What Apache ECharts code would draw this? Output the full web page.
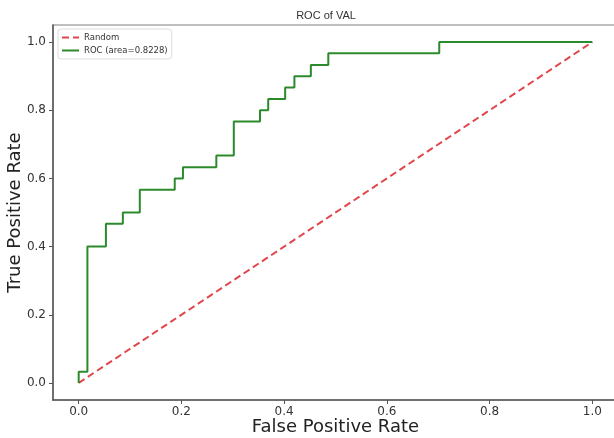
<!DOCTYPE html>
<html lang="en">
<head>
    <meta charset="UTF-8">
    <title>ROC of VAL</title>
    <script src="https://cdn.jsdelivr.net/npm/echarts@6/dist/echarts.min.js" type="text/javascript"></script>
    <style>
        html, body { margin: 0; padding: 0; background: #fff; }
        #roc { width: 614px; height: 438px; }
    </style>
</head>
<body>
<div id="roc"></div>
<script>
    // 曲线拐点 (FPR, TPR)
    var fpr = [0, 0, 0.017, 0.017, 0.053, 0.053, 0.086, 0.086, 0.119, 0.119, 0.187, 0.187,
        0.203, 0.203, 0.268, 0.268, 0.302, 0.302, 0.353, 0.353, 0.369, 0.369, 0.402, 0.402,
        0.42, 0.42, 0.452, 0.452, 0.486, 0.486, 0.702, 0.702, 1.0];
    var tpr = [0, 0.033, 0.033, 0.4, 0.4, 0.467, 0.467, 0.5, 0.5, 0.567, 0.567, 0.6,
        0.6, 0.633, 0.633, 0.667, 0.667, 0.767, 0.767, 0.8, 0.8, 0.833, 0.833, 0.867,
        0.867, 0.9, 0.9, 0.933, 0.933, 0.967, 0.967, 1.0, 1.0];
    var randomX = [0, 1];
    var randomY = [0, 1];
    var ticks = [0, 0.2, 0.4, 0.6, 0.8, 1.0];

    var rocData = [];
    for (var i = 0; i < fpr.length; i++) {
        rocData.push([fpr[i], tpr[i]]);
    }
    var randData = [];
    for (var j = 0; j < randomX.length; j++) {
        randData.push([randomX[j], randomY[j]]);
    }

    var axisCommon = {
        type: 'value',
        min: -0.05,
        max: 1.05,
        nameLocation: 'middle',
        nameMoveOverlap: false,
        nameTextStyle: { fontFamily: 'DejaVu Sans', fontSize: 18, color: '#222' },
        axisLine: { show: true, onZero: false, lineStyle: { color: '#555', width: 1.5 } },
        axisTick: { show: true, length: 4, customValues: ticks, lineStyle: { color: '#555' } },
        axisLabel: {
            customValues: ticks,
            fontFamily: 'DejaVu Sans', fontSize: 12, color: '#333',
            formatter: function (v) { return v.toFixed(1); }
        },
        splitLine: { show: false }
    };

    var chart = echarts.init(document.getElementById('roc'));
    var option = {
        animation: false,
        backgroundColor: '#fff',
        title: {
            text: 'ROC of VAL',
            left: 321,
            top: 5,
            textAlign: 'center',
            textStyle: { fontFamily: 'Liberation Sans', fontSize: 11, fontWeight: 'normal', color: '#333' }
        },
        grid: {
            left: 53, top: 25, width: 565, height: 375,
            containLabel: false,
            outerBoundsMode: 'none',
            show: true, borderColor: '#aaa', borderWidth: 1.5
        },
        legend: {
            left: 58, top: 29,
            orient: 'vertical',
            itemWidth: 17, itemHeight: 8, itemGap: 4,
            padding: [4, 4, 4, 3],
            borderColor: '#ddd', borderWidth: 1, borderRadius: 3,
            itemStyle: { opacity: 0 },
            textStyle: { fontFamily: 'DejaVu Sans', fontSize: 8.5, color: '#333' },
            data: ['Random', 'ROC (area=0.8228)']
        },
        xAxis: Object.assign({}, axisCommon, {
            name: 'False Positive Rate',
            nameGap: 18,
            axisLabel: Object.assign({}, axisCommon.axisLabel, { margin: 6 })
        }),
        yAxis: Object.assign({}, axisCommon, {
            name: 'True Positive Rate',
            nameGap: 29,
            axisLabel: Object.assign({}, axisCommon.axisLabel, { margin: 7 })
        }),
        series: [
            {
                name: 'Random',
                type: 'line',
                symbol: 'none',
                data: randData,
                lineStyle: { color: '#e0474c', width: 2, type: [7, 4] },
                itemStyle: { color: '#e0474c' }
            },
            {
                name: 'ROC (area=0.8228)',
                type: 'line',
                symbol: 'none',
                data: rocData,
                lineStyle: { color: '#2c8a2c', width: 2 },
                itemStyle: { color: '#2c8a2c' }
            }
        ]
    };
    chart.setOption(option);
</script>
</body>
</html>
